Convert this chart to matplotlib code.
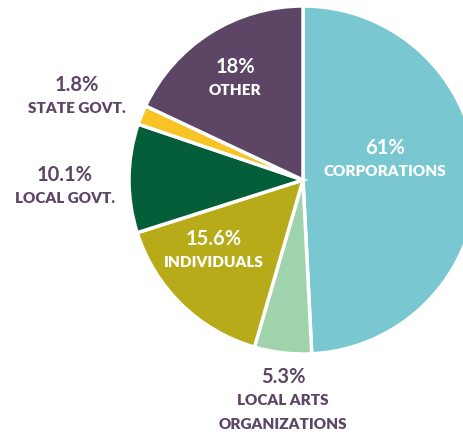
import matplotlib.pyplot as plt

# slice sizes (label text kept as printed)
names = ['CORPORATIONS', 'LOCAL ARTS\nORGANIZATIONS', 'INDIVIDUALS',
         'LOCAL GOVT.', 'STATE GOVT.', 'OTHER']
shares = [49.2, 5.3, 15.6, 10.1, 1.8, 18.0]
pct_labels = ['61%', '5.3%', '15.6%', '10.1%', '1.8%', '18%']
colors = ['#79C7D0', '#9ED3AB', '#B8AB1A', '#055E3A', '#F7C325', '#5C4565']

purple = '#5C4565'
fam = ['Lato', 'DejaVu Sans']

fig = plt.figure(figsize=(4.64, 4.34), dpi=100)
ax = fig.add_axes([0, 0, 1, 1])

ax.pie(shares, colors=colors, startangle=90, counterclock=False,
       center=(303, 254), radius=174, frame=True,
       wedgeprops=dict(edgecolor='white', linewidth=2.5))
ax.set_xlim(0, 464)
ax.set_ylim(0, 434)
ax.axis('off')

# label positions (pixels from top-left)
pos = [(385, 148), (283, 377), (214, 239), (65, 175), (77, 85), (235, 67)]
inside = [True, False, True, False, False, True]
for i in range(len(names)):
    x, y = pos[i]
    c = 'white' if inside[i] else purple
    ax.text(x, 434 - y, pct_labels[i], ha='center', va='center',
            fontsize=14.5, fontweight='bold', color=c, family=fam)
    for j, line in enumerate(names[i].split('\n')):
        ax.text(x, 434 - y - 23.5 - 24 * j, line, ha='center', va='center',
                fontsize=11, fontweight='heavy', color=c, family=fam)

fig.savefig('out.png', dpi=100)
